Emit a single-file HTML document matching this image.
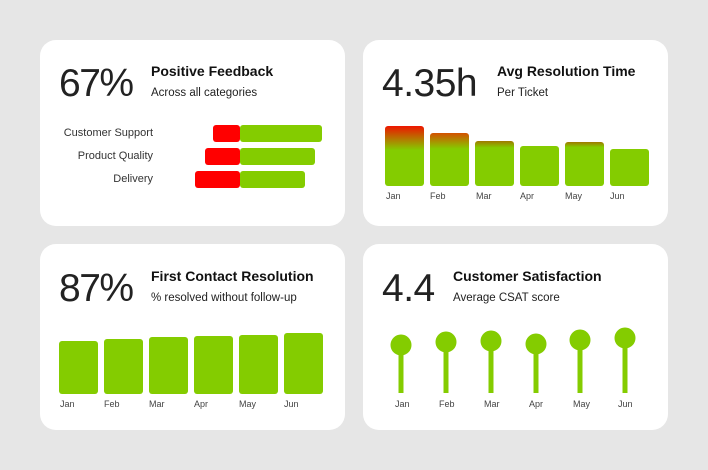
<!DOCTYPE html>
<html><head><style>
body{margin:0;width:708px;height:470px;background:#e6e6e6;font-family:"Liberation Sans",sans-serif;position:relative;overflow:hidden;color:#222}
.c{position:absolute;background:#fff;border-radius:16px;width:305px;height:186px}
.big{position:absolute;font-size:39px;color:#222;line-height:1;letter-spacing:-0.5px}
.t{position:absolute;font-size:14px;font-weight:bold;color:#111}
.s{position:absolute;font-size:11.5px;color:#222}
.a{position:absolute;font-size:9px;color:#444}
.b{position:absolute;border-radius:3px;background:#84cc00}
.r{background:#f00}
.l{position:absolute;font-size:11px;color:#333;text-align:right;width:120px}
</style></head><body>
<div class="c" style="left:40px;top:40px"></div>
<div class="c" style="left:363px;top:40px"></div>
<div class="c" style="left:40px;top:244px"></div>
<div class="c" style="left:363px;top:244px"></div>

<div class="big" style="left:59px;top:64px;letter-spacing:-1.5px">67%</div>
<div class="t" style="left:151px;top:63px">Positive Feedback</div>
<div class="s" style="left:151px;top:87px">Across all categories</div>
<div class="l" style="left:33px;top:127px">Customer Support</div>
<div class="l" style="left:33px;top:150px">Product Quality</div>
<div class="l" style="left:33px;top:173px">Delivery</div>
<div class="b r" style="left:213px;top:125px;width:27px;height:17px"></div>
<div class="b" style="left:240px;top:125px;width:82px;height:17px"></div>
<div class="b r" style="left:205px;top:148px;width:35px;height:17px"></div>
<div class="b" style="left:240px;top:148px;width:75px;height:17px"></div>
<div class="b r" style="left:195px;top:171px;width:45px;height:17px"></div>
<div class="b" style="left:240px;top:171px;width:65px;height:17px"></div>

<div class="big" style="left:382px;top:64px">4.35h</div>
<div class="t" style="left:497px;top:63px">Avg Resolution Time</div>
<div class="s" style="left:497px;top:87px">Per Ticket</div>
<div class="b" style="left:385px;top:126px;width:39px;height:60px;background:linear-gradient(#ee1500,#84cc00 40%)"></div>
<div class="b" style="left:430px;top:133px;width:39px;height:53px;background:linear-gradient(#d45000,#84cc00 30%)"></div>
<div class="b" style="left:475px;top:141px;width:39px;height:45px;background:linear-gradient(#a07800,#84cc00 15%)"></div>
<div class="b" style="left:520px;top:146px;width:39px;height:40px"></div>
<div class="b" style="left:565px;top:142px;width:39px;height:44px;background:linear-gradient(#a07800,#84cc00 12%)"></div>
<div class="b" style="left:610px;top:149px;width:39px;height:37px"></div>
<div class="a" style="left:386px;top:191px">Jan</div><div class="a" style="left:430px;top:191px">Feb</div><div class="a" style="left:476px;top:191px">Mar</div><div class="a" style="left:520px;top:191px">Apr</div><div class="a" style="left:565px;top:191px">May</div><div class="a" style="left:610px;top:191px">Jun</div>

<div class="big" style="left:59px;top:269px;letter-spacing:-1.5px">87%</div>
<div class="t" style="left:151px;top:268px">First Contact Resolution</div>
<div class="s" style="left:151px;top:292px">% resolved without follow-up</div>
<div class="b" style="left:59px;top:341px;width:39px;height:53px"></div>
<div class="b" style="left:104px;top:339px;width:39px;height:55px"></div>
<div class="b" style="left:149px;top:337px;width:39px;height:57px"></div>
<div class="b" style="left:194px;top:336px;width:39px;height:58px"></div>
<div class="b" style="left:239px;top:335px;width:39px;height:59px"></div>
<div class="b" style="left:284px;top:333px;width:39px;height:61px"></div>
<div class="a" style="left:60px;top:399px">Jan</div><div class="a" style="left:104px;top:399px">Feb</div><div class="a" style="left:149px;top:399px">Mar</div><div class="a" style="left:194px;top:399px">Apr</div><div class="a" style="left:239px;top:399px">May</div><div class="a" style="left:284px;top:399px">Jun</div>

<div class="big" style="left:382px;top:269px">4.4</div>
<div class="t" style="left:453px;top:268px">Customer Satisfaction</div>
<div class="s" style="left:453px;top:292px">Average CSAT score</div>
<svg style="position:absolute;left:0;top:0" width="708" height="470">
<g stroke="#84cc00" stroke-width="5" fill="#84cc00">
<line x1="401" y1="345" x2="401" y2="393"/><circle cx="401" cy="345" r="8"/>
<line x1="446" y1="342" x2="446" y2="393"/><circle cx="446" cy="342" r="8"/>
<line x1="491" y1="341" x2="491" y2="393"/><circle cx="491" cy="341" r="8"/>
<line x1="536" y1="344" x2="536" y2="393"/><circle cx="536" cy="344" r="8"/>
<line x1="580" y1="340" x2="580" y2="393"/><circle cx="580" cy="340" r="8"/>
<line x1="625" y1="338" x2="625" y2="393"/><circle cx="625" cy="338" r="8"/>
</g></svg>
<div class="a" style="left:395px;top:399px">Jan</div><div class="a" style="left:439px;top:399px">Feb</div><div class="a" style="left:484px;top:399px">Mar</div><div class="a" style="left:529px;top:399px">Apr</div><div class="a" style="left:573px;top:399px">May</div><div class="a" style="left:618px;top:399px">Jun</div>
</body></html>
